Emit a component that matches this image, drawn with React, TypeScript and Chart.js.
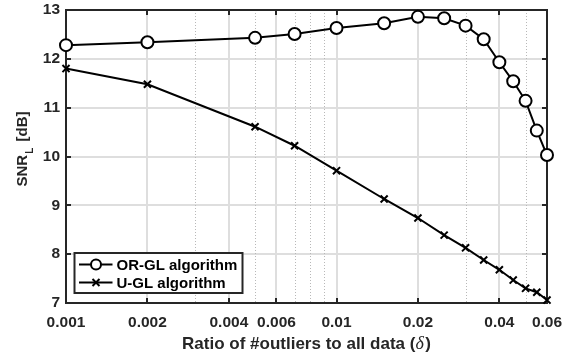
import React, { useEffect, useRef } from "react";
import { Chart, registerables } from "chart.js";

Chart.register(...registerables);

const xValues = [0.001, 0.002, 0.005, 0.007, 0.01, 0.015, 0.02, 0.025, 0.03, 0.035, 0.04, 0.045, 0.05, 0.055, 0.06];
const orGL = [12.28, 12.34, 12.43, 12.51, 12.63, 12.73, 12.86, 12.83, 12.68, 12.4, 11.93, 11.54, 11.14, 10.53, 10.03];
const uGL = [11.8, 11.48, 10.61, 10.22, 9.71, 9.13, 8.74, 8.39, 8.13, 7.88, 7.68, 7.47, 7.3, 7.22, 7.06];
const majorXTicks = [0.001, 0.002, 0.004, 0.006, 0.01, 0.02, 0.04, 0.06];
const minorXTicks = [0.003, 0.005, 0.007, 0.008, 0.009, 0.03, 0.05];
const yTicks = [7, 8, 9, 10, 11, 12, 13];
const seriesNames = ["OR-GL algorithm", "U-GL algorithm"];
const xTitle = "Ratio of #outliers to all data (";
const xTitleSymbol = "δ";
const xTitleEnd = ")";
const yTitleMain = "SNR";
const yTitleSub = "L";
const yTitleEnd = " [dB]";

const TEXT = "#262626";
const FONT = "'Liberation Sans', Arial, Helvetica, sans-serif";

const decorPlugin = {
  id: "decor",
  beforeDatasetsDraw(chart: any) {
    const { ctx, chartArea } = chart;
    const xs = chart.scales.x;
    const ys = chart.scales.y;
    const { left, right, top, bottom } = chartArea;
    ctx.save();
    ctx.strokeStyle = "#dedede";
    ctx.lineWidth = 2;
    ctx.setLineDash([]);
    majorXTicks.forEach((v) => {
      const px = Math.round(xs.getPixelForValue(v));
      ctx.beginPath();
      ctx.moveTo(px, top);
      ctx.lineTo(px, bottom);
      ctx.stroke();
    });
    yTicks.forEach((v) => {
      const py = Math.round(ys.getPixelForValue(v));
      ctx.beginPath();
      ctx.moveTo(left, py);
      ctx.lineTo(right, py);
      ctx.stroke();
    });
    ctx.strokeStyle = "#b8b8b8";
    ctx.lineWidth = 1;
    ctx.setLineDash([1, 2]);
    minorXTicks.forEach((v) => {
      const px = Math.round(xs.getPixelForValue(v)) + 0.5;
      ctx.beginPath();
      ctx.moveTo(px, top);
      ctx.lineTo(px, bottom);
      ctx.stroke();
    });
    ctx.setLineDash([]);
    ctx.strokeStyle = TEXT;
    ctx.lineWidth = 2;
    ctx.strokeRect(left, top, right - left, bottom - top);
    const tl = 5;
    majorXTicks.forEach((v) => {
      const px = Math.round(xs.getPixelForValue(v));
      ctx.beginPath();
      ctx.moveTo(px, bottom);
      ctx.lineTo(px, bottom - tl);
      ctx.moveTo(px, top);
      ctx.lineTo(px, top + tl);
      ctx.stroke();
    });
    yTicks.forEach((v) => {
      const py = Math.round(ys.getPixelForValue(v));
      ctx.beginPath();
      ctx.moveTo(left, py);
      ctx.lineTo(left + tl, py);
      ctx.moveTo(right, py);
      ctx.lineTo(right - tl, py);
      ctx.stroke();
    });
    ctx.restore();
  },
  afterDraw(chart: any) {
    const { ctx, chartArea } = chart;
    const { left, right, top, bottom } = chartArea;
    ctx.save();
    const lx = left + 8.5;
    const ly = bottom - 50;
    const lw = 168;
    const lh = 40;
    ctx.fillStyle = "#ffffff";
    ctx.fillRect(lx, ly, lw, lh);
    ctx.strokeStyle = TEXT;
    ctx.lineWidth = 2;
    ctx.strokeRect(lx, ly, lw, lh);
    const rows = [ly + 11.5, ly + 29.5];
    rows.forEach((ry, i) => {
      ctx.strokeStyle = "#000";
      ctx.lineWidth = 2;
      ctx.beginPath();
      ctx.moveTo(lx + 4.5, ry);
      ctx.lineTo(lx + 38, ry);
      ctx.stroke();
      const mx = lx + 21.5;
      if (i === 0) {
        ctx.beginPath();
        ctx.arc(mx, ry, 5, 0, Math.PI * 2);
        ctx.fillStyle = "#fff";
        ctx.fill();
        ctx.stroke();
      } else {
        const s = 3.5;
        ctx.beginPath();
        ctx.moveTo(mx - s, ry - s);
        ctx.lineTo(mx + s, ry + s);
        ctx.moveTo(mx - s, ry + s);
        ctx.lineTo(mx + s, ry - s);
        ctx.stroke();
      }
      ctx.fillStyle = "#000";
      ctx.font = `bold 15px ${FONT}`;
      ctx.textAlign = "left";
      ctx.textBaseline = "middle";
      ctx.fillText(seriesNames[i], lx + 42, ry + 1);
    });

    // X title
    ctx.fillStyle = TEXT;
    ctx.textBaseline = "alphabetic";
    const f1 = `bold 17px ${FONT}`;
    const f2 = `italic 18px 'Liberation Serif', 'DejaVu Serif', serif`;
    ctx.font = f1;
    const w1 = ctx.measureText(xTitle).width;
    const w3 = ctx.measureText(xTitleEnd).width;
    ctx.font = f2;
    const w2 = ctx.measureText(xTitleSymbol).width + 1.5;
    const total = w1 + w2 + w3;
    const cx = (left + right) / 2;
    let tx = cx - total / 2;
    const by = 349;
    ctx.textAlign = "left";
    ctx.font = f1;
    ctx.fillText(xTitle, tx, by);
    tx += w1;
    ctx.font = f2;
    ctx.fillText(xTitleSymbol, tx, by);
    tx += w2;
    ctx.font = f1;
    ctx.fillText(xTitleEnd, tx, by);

    // Y title (rotated)
    const fy = `bold 15px ${FONT}`;
    ctx.save();
    ctx.translate(27, (top + bottom) / 2 - 7);
    ctx.rotate(-Math.PI / 2);
    const fs = `bold 10px ${FONT}`;
    ctx.font = fy;
    const a = ctx.measureText(yTitleMain).width;
    const c = ctx.measureText(yTitleEnd).width;
    ctx.font = fs;
    const b = ctx.measureText(yTitleSub).width + 2;
    const tot = a + b + c;
    let ty = -tot / 2;
    ctx.font = fy;
    ctx.fillText(yTitleMain, ty, 0);
    ty += a + 1;
    ctx.font = fs;
    ctx.fillText(yTitleSub, ty, 6);
    ty += b;
    ctx.font = fy;
    ctx.fillText(yTitleEnd, ty, 0);
    ctx.restore();

    ctx.restore();
  },
};

export default function App() {
  const ref = useRef<HTMLCanvasElement | null>(null);
  useEffect(() => {
    if (!ref.current) return;
    const chart = new Chart(ref.current, {
      type: "line",
      data: {
        datasets: [
          {
            label: seriesNames[0],
            data: xValues.map((x, i) => ({ x, y: orGL[i] })),
            borderColor: "#000",
            borderWidth: 2,
            pointStyle: "circle",
            pointRadius: 6,
            pointBorderWidth: 2,
            pointBackgroundColor: "#fff",
            pointBorderColor: "#000",
            clip: false as any,
          },
          {
            label: seriesNames[1],
            data: xValues.map((x, i) => ({ x, y: uGL[i] })),
            borderColor: "#000",
            borderWidth: 2,
            pointStyle: "crossRot",
            pointRadius: 5,
            pointBorderWidth: 2,
            pointBackgroundColor: "#000",
            pointBorderColor: "#000",
            clip: false as any,
          },
        ],
      },
      options: {
        responsive: false,
        animation: false,
        events: [],
        layout: { padding: { top: 10, right: 16, left: 0, bottom: 0 } },
        plugins: { legend: { display: false }, tooltip: { enabled: false } },
        scales: {
          x: {
            type: "logarithmic",
            min: 0.001,
            max: 0.06,
            grid: { display: false, drawTicks: false },
            border: { display: false },
            afterBuildTicks: (scale: any) => {
              scale.ticks = majorXTicks.map((v) => ({ value: v }));
            },
            afterFit: (scale: any) => {
              scale.height = 51;
              scale.paddingLeft = 0;
              scale.paddingRight = 0;
            },
            ticks: {
              autoSkip: false,
              maxRotation: 0,
              minRotation: 0,
              padding: 10,
              color: TEXT,
              font: { family: FONT, size: 15.5, weight: "bold" },
              callback: (v: any) => String(v),
            },
          },
          y: {
            type: "linear",
            min: 7,
            max: 13,
            grid: { display: false, drawTicks: false },
            border: { display: false },
            afterBuildTicks: (scale: any) => {
              scale.ticks = yTicks.map((v) => ({ value: v }));
            },
            afterFit: (scale: any) => {
              scale.width = 66;
              scale.paddingTop = 0;
              scale.paddingBottom = 0;
            },
            ticks: {
              padding: 6,
              color: TEXT,
              font: { family: FONT, size: 15.5, weight: "bold" },
              callback: (v: any) => String(v),
            },
          },
        },
      },
      plugins: [decorPlugin],
    } as any);
    return () => chart.destroy();
  }, []);
  return (
    <div style={{ position: "fixed", left: 0, top: 0, width: 563, height: 354, background: "#fff" }}>
      <canvas ref={ref} width={563} height={354} />
    </div>
  );
}
